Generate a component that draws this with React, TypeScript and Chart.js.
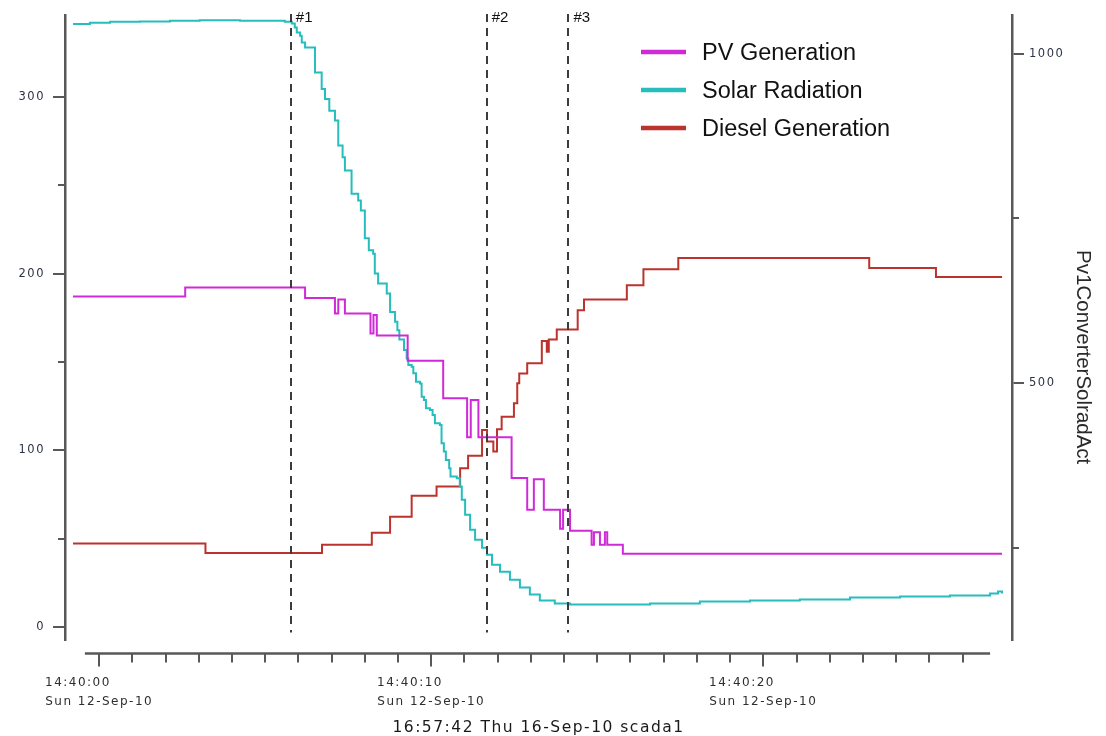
import React, { useEffect, useRef } from 'react';
import { Chart, registerables } from 'chart.js';

Chart.register(...registerables);

// ---------- data (seconds after 14:40:00) ----------
const seriesLabels = ['PV Generation', 'Solar Radiation', 'Diesel Generation'];
const seriesColors = ['#d02ad8', '#26bdbd', '#bb332c'];

const pvTimes = [-0.79, 2.59, 6.2, 7.1, 7.2, 7.4, 8.17, 8.26, 8.36, 9.29, 10.36, 11.08, 11.19, 11.42, 12.42, 12.89, 13.09, 13.39, 13.88, 13.97, 14.18, 14.83, 14.9, 15.08, 15.23, 15.3, 15.77, 27.19];
const pvValues = [187.1, 192.2, 186.3, 177.5, 185.4, 177.5, 166.2, 176.6, 165.1, 150.7, 129.5, 107.5, 128.5, 107.5, 84.3, 66.4, 83.7, 66.4, 55.6, 66.4, 54.5, 46.6, 53.6, 46.6, 53.6, 46.6, 41.5, 41.5];

const solarTimes = [-0.79, -0.28, 0.33, 1.23, 2.13, 3.03, 4.24, 5.14, 5.59, 5.8, 5.89, 5.95, 6.05, 6.1, 6.2, 6.5, 6.7, 6.8, 6.93, 7.1, 7.2, 7.33, 7.4, 7.6, 7.8, 7.88, 8.0, 8.12, 8.25, 8.3, 8.4, 8.66, 8.76, 8.91, 8.98, 9.04, 9.18, 9.26, 9.31, 9.41, 9.46, 9.54, 9.66, 9.71, 9.78, 9.84, 9.96, 10.04, 10.11, 10.26, 10.31, 10.38, 10.44, 10.54, 10.58, 10.77, 10.86, 10.92, 11.02, 11.17, 11.32, 11.53, 11.68, 11.83, 12.07, 12.37, 12.67, 12.97, 13.27, 13.72, 14.18, 15.08, 16.59, 18.09, 19.6, 21.1, 22.61, 24.12, 25.62, 26.83, 27.07, 27.19];
const solarValues = [1045, 1047, 1048.5, 1049, 1050, 1051, 1050, 1050, 1048.5, 1046, 1039.8, 1032.3, 1027.3, 1017.1, 1009.5, 971.7, 946.5, 931.4, 913.6, 898.5, 860.6, 842.9, 822.7, 787.4, 777.3, 762, 719.7, 701.5, 696.5, 666.2, 651, 636, 608, 593, 580.3, 566.2, 550, 537.4, 527.3, 524.7, 514.7, 502, 499.5, 479.2, 474.2, 461.7, 459.1, 451.5, 438.9, 436.4, 408.6, 395.9, 383.3, 370.8, 358.1, 355.6, 342.9, 322.7, 300, 277.3, 262.1, 250, 239.4, 224.2, 213.6, 201.5, 189.4, 178.8, 169.7, 165.2, 163.6, 163.6, 165.2, 168.2, 169.7, 171.2, 174.2, 175.8, 177.3, 180.3, 183.3, 180.3];

const dieselTimes = [-0.79, 3.2, 6.71, 8.21, 8.76, 9.41, 10.16, 10.87, 11.11, 11.53, 11.68, 11.87, 11.98, 12.12, 12.49, 12.59, 12.65, 12.89, 13.33, 13.48, 13.54, 13.78, 14.41, 14.6, 15.89, 16.39, 17.44, 23.19, 25.2, 27.19];
const dieselValues = [47.2, 41.9, 46.6, 53.4, 62.4, 74.3, 79.5, 89.9, 96.9, 111.6, 105.0, 99.3, 112.0, 119.1, 126.7, 138.0, 143.6, 149.3, 162.0, 155.8, 162.8, 168.5, 179.4, 185.4, 193.5, 202.5, 208.9, 203.3, 198.2, 198.2];

const markerTimes = [5.77, 11.67, 14.13];
const markerLabels = ['#1', '#2', '#3'];

const xTickSeconds = [0, 1, 2, 3, 4, 5, 6, 7, 8, 9, 10, 11, 12, 13, 14, 15, 16, 17, 18, 19, 20, 21, 22, 23, 24, 25, 26];
const xMajorSeconds = [0, 10, 20];
const xMajorLabels = ['14:40:00', '14:40:10', '14:40:20'];
const xDateLabel = 'Sun 12-Sep-10';
const xAxisLineRange = [-0.43, 26.83];

const leftTicks = [0, 50, 100, 150, 200, 250, 300];
const leftLabelled = [0, 100, 200, 300];
const rightTicks = [250, 500, 750, 1000];
const rightLabelled = [500, 1000];

const rightAxisTitle = 'Pv1ConverterSolradAct';
const footerText = '16:57:42 Thu 16-Sep-10 scada1';

const axisColor = '#585858';
const HIDDEN = 'rgba(0,0,0,0)';
const X_TICK_FONT = '12px "DejaVu Sans", sans-serif';

const toXY = (ts: number[], vs: number[]) => ts.map((t, i) => ({ x: t, y: vs[i] }));

const decorPlugin = {
  id: 'decor',
  beforeLayout(chart: any) {
    chart.ctx.letterSpacing = '1.5px';
  },
  beforeDraw(chart: any) {
    chart.ctx.letterSpacing = '1.5px';
  },
  afterDraw(chart: any) {
    const ctx = chart.ctx as CanvasRenderingContext2D;
    const ca = chart.chartArea;
    const xs = chart.scales.x;
    const yl = chart.scales.y;
    const yr = chart.scales.y1;
    const line = (x1: number, y1: number, x2: number, y2: number) => {
      ctx.beginPath();
      ctx.moveTo(x1, y1);
      ctx.lineTo(x2, y2);
      ctx.stroke();
    };
    ctx.save();
    (ctx as any).letterSpacing = '0px';
    // bottom axis line
    ctx.strokeStyle = axisColor;
    ctx.lineWidth = 2.5;
    line(xs.getPixelForValue(xAxisLineRange[0]), xs.top, xs.getPixelForValue(xAxisLineRange[1]), xs.top);
    // minor ticks
    ctx.lineWidth = 2;
    xTickSeconds.forEach((v) => {
      if (!xMajorSeconds.includes(v)) {
        const px = Math.round(xs.getPixelForValue(v));
        line(px, xs.top, px, xs.top + 9);
      }
    });
    leftTicks.forEach((v) => {
      if (!leftLabelled.includes(v)) {
        const py = Math.round(yl.getPixelForValue(v));
        line(yl.right - 7, py, yl.right, py);
      }
    });
    rightTicks.forEach((v) => {
      if (!rightLabelled.includes(v)) {
        const py = Math.round(yr.getPixelForValue(v));
        line(yr.left, py, yr.left + 7, py);
      }
    });
    // event markers
    ctx.strokeStyle = '#3c3c3c';
    ctx.lineWidth = 2;
    ctx.setLineDash([8, 6]);
    markerTimes.forEach((t) => {
      const px = Math.round(xs.getPixelForValue(t));
      line(px, ca.top - 1, px, ca.bottom - 7);
    });
    ctx.setLineDash([]);
    ctx.fillStyle = '#111';
    ctx.font = '15px "Liberation Sans", Arial, sans-serif';
    ctx.textAlign = 'left';
    ctx.textBaseline = 'alphabetic';
    markerTimes.forEach((t, i) => {
      const px = xs.getPixelForValue(t);
      ctx.fillText(markerLabels[i], px + 5, ca.top + 7);
    });
    // legend
    ctx.font = '23.5px "Liberation Sans", Arial, sans-serif';
    ctx.textBaseline = 'middle';
    ctx.lineWidth = 4.5;
    chart.data.datasets.forEach((ds: any, i: number) => {
      const ly = ca.top + 37 + i * 38;
      const lx = ca.left + 576;
      ctx.strokeStyle = ds.borderColor;
      line(lx, ly, lx + 45, ly);
      ctx.fillStyle = '#111';
      ctx.fillText(ds.label, lx + 61, ly + 2);
    });
    // right axis title
    ctx.translate(yr.right - 23, (ca.top + ca.bottom) / 2 + 30);
    ctx.rotate(Math.PI / 2);
    ctx.textAlign = 'center';
    ctx.textBaseline = 'middle';
    ctx.font = '20.5px "Liberation Sans", Arial, sans-serif';
    ctx.fillStyle = '#2a2a2a';
    ctx.fillText(rightAxisTitle, 0, 0);
    ctx.restore();
  },
};

export default function App() {
  const ref = useRef<HTMLCanvasElement | null>(null);

  useEffect(() => {
    if (!ref.current) return;
    const tickFont = { family: '"DejaVu Sans", sans-serif', size: 11.5 };
    const chart = new Chart(ref.current, {
      type: 'line',
      data: {
        datasets: [
          {
            label: seriesLabels[0],
            data: toXY(pvTimes, pvValues),
            borderColor: seriesColors[0],
            yAxisID: 'y',
            xAxisID: 'x',
          },
          {
            label: seriesLabels[1],
            data: toXY(solarTimes, solarValues),
            borderColor: seriesColors[1],
            yAxisID: 'y1',
            xAxisID: 'x',
          },
          {
            label: seriesLabels[2],
            data: toXY(dieselTimes, dieselValues),
            borderColor: seriesColors[2],
            yAxisID: 'y',
            xAxisID: 'x',
          },
        ],
      },
      options: {
        responsive: false,
        animation: false,
        parsing: false as any,
        elements: {
          point: { radius: 0, hoverRadius: 0 },
          line: { borderWidth: 2, stepped: true as any, tension: 0, fill: false },
        },
        layout: { padding: { top: 14, left: 0, right: 0, bottom: 0 } },
        plugins: {
          legend: { display: false },
          tooltip: { enabled: false },
          title: {
            display: true,
            text: footerText,
            position: 'bottom',
            fullSize: false,
            color: '#1a1a1a',
            font: { family: '"DejaVu Sans", sans-serif', size: 15.5, lineHeight: 1, weight: 'normal' as any },
            padding: { top: 9, bottom: 0 },
          },
        },
        scales: {
          x: {
            type: 'linear',
            position: 'bottom',
            weight: 1,
            min: -1.03,
            max: 27.49,
            afterBuildTicks: (s: any) => {
              s.ticks = xTickSeconds.map((v) => ({ value: v }));
            },
            afterFit: (s: any) => {
              s.height = 58;
            },
            border: { display: false },
            grid: {
              drawOnChartArea: false,
              drawTicks: true,
              tickLength: 13,
              lineWidth: 2,
              color: (c: any) => (c.tick && xMajorSeconds.includes(c.tick.value) ? axisColor : HIDDEN),
            },
            ticks: {
              autoSkip: false,
              maxRotation: 0,
              minRotation: 0,
              padding: 7,
              color: '#2e2e2e',
              font: { family: '"DejaVu Sans", sans-serif', size: 12, lineHeight: 1.56 },
              callback: function (this: any, v: any) {
                const i = xMajorSeconds.indexOf(Number(v));
                if (i < 0) return '';
                // left-align both lines inside a block centred on the tick
                const ctx = this.ctx as CanvasRenderingContext2D;
                ctx.save();
                ctx.font = X_TICK_FONT;
                const w1 = ctx.measureText(xMajorLabels[i]).width;
                const w2 = ctx.measureText(xDateLabel).width;
                const ws = ctx.measureText(' ').width || 5;
                ctx.restore();
                const n = Math.max(0, Math.round((w2 - w1) / ws));
                return [xMajorLabels[i] + ' '.repeat(n), xDateLabel];
              },
            },
          },
          xgap: {
            type: 'linear',
            position: 'bottom',
            weight: 0,
            min: 0,
            max: 1,
            ticks: { display: false },
            grid: { display: false, drawTicks: false },
            border: { display: false },
            afterFit: (s: any) => {
              s.height = 14;
            },
          },
          y: {
            type: 'linear',
            position: 'left',
            min: -7.1,
            max: 346.6,
            afterBuildTicks: (s: any) => {
              s.ticks = leftTicks.map((v) => ({ value: v }));
            },
            afterFit: (s: any) => {
              s.width = 65;
            },
            border: { display: true, color: axisColor, width: 2.5 },
            grid: {
              drawOnChartArea: false,
              tickLength: 12,
              lineWidth: 2,
              color: (c: any) => (c.tick && leftLabelled.includes(c.tick.value) ? axisColor : HIDDEN),
            },
            ticks: {
              autoSkip: false,
              padding: 8,
              color: '#2d3346',
              font: tickFont,
              callback: (v: any) => (leftLabelled.includes(Number(v)) ? String(v) : ''),
            },
          },
          y1: {
            type: 'linear',
            position: 'right',
            min: 110.6,
            max: 1059,
            afterBuildTicks: (s: any) => {
              s.ticks = rightTicks.map((v) => ({ value: v }));
            },
            afterFit: (s: any) => {
              s.width = 94;
            },
            border: { display: true, color: axisColor, width: 2.5 },
            grid: {
              drawOnChartArea: false,
              tickLength: 12,
              lineWidth: 2,
              color: (c: any) => (c.tick && rightLabelled.includes(c.tick.value) ? axisColor : HIDDEN),
            },
            ticks: {
              autoSkip: false,
              padding: 5,
              color: '#2d3346',
              font: tickFont,
              callback: (v: any) => (rightLabelled.includes(Number(v)) ? String(v) : ''),
            },
          },
        },
      } as any,
      plugins: [decorPlugin],
    });
    return () => chart.destroy();
  }, []);

  return (
    <div style={{ position: 'fixed', left: 0, top: 0, width: 1106, height: 736, background: '#fff' }}>
      <canvas ref={ref} width={1106} height={736} style={{ display: 'block' }} />
    </div>
  );
}
